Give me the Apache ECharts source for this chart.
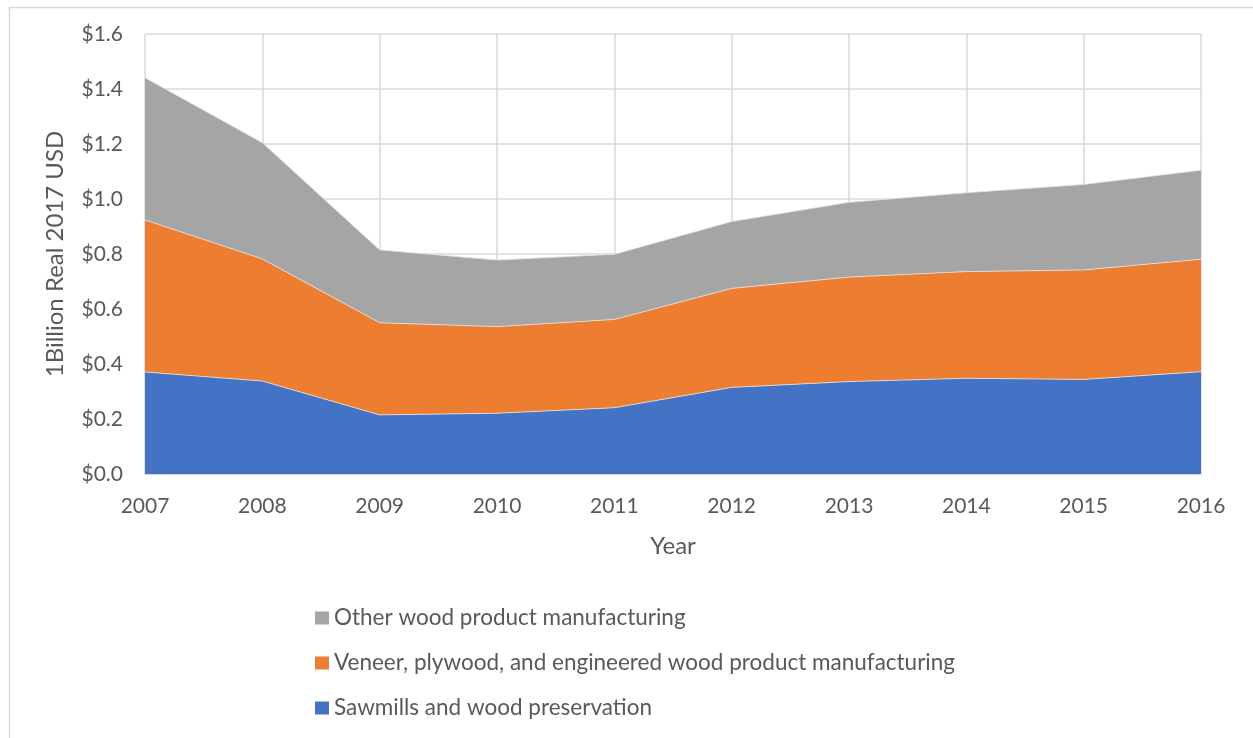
<!DOCTYPE html>
<html>
<head>
<meta charset="utf-8">
<script src="https://cdn.jsdelivr.net/npm/echarts@6/dist/echarts.min.js"></script>
<style>html,body{margin:0;padding:0;background:#fff;}#c{width:1253px;height:738px;}</style>
</head>
<body>
<div id="c"></div>
<script>
const years = ['2007','2008','2009','2010','2011','2012','2013','2014','2015','2016'];
const sawmills = [0.371, 0.338, 0.215, 0.221, 0.241, 0.315, 0.336, 0.348, 0.344, 0.372];
const veneer = [0.553, 0.444, 0.335, 0.315, 0.321, 0.360, 0.380, 0.388, 0.398, 0.409];
const other = [0.517, 0.423, 0.265, 0.242, 0.237, 0.243, 0.272, 0.287, 0.311, 0.324];
const seriesNames = ['Sawmills and wood preservation', 'Veneer, plywood, and engineered wood product manufacturing', 'Other wood product manufacturing'];
const yTicks = { min: 0, max: 1.6, interval: 0.2 };

const FONT = 'Lato';
const TXT = '#595959';
const GRID = '#D9D9D9';

const chart = echarts.init(document.getElementById('c'), null, { renderer: 'canvas' });
function areaSeries(name, data, color) {
  return {
    name: name, type: 'line', stack: 'total', data: data,
    symbol: 'none', showSymbol: false,
    lineStyle: { width: 0.8, color: '#e6e6e6' },
    areaStyle: { color: color, opacity: 1 },
    itemStyle: { color: color },
    emphasis: { disabled: true },
    animation: false
  };
}
chart.setOption({
  animation: false,
  backgroundColor: '#fff',
  textStyle: { fontFamily: FONT },
  graphic: [{
    type: 'rect', left: 7, top: 5, silent: true,
    shape: { width: 1300, height: 800 },
    style: { fill: 'none', stroke: GRID, lineWidth: 1.5 }
  }],
  grid: { left: 145, right: 52, top: 34, bottom: 264, containLabel: false },
  legend: {
    orient: 'vertical', left: 315, top: 605, padding: 0,
    itemWidth: 14, itemHeight: 13, itemGap: 19,
    icon: 'rect',
    data: [seriesNames[2], seriesNames[1], seriesNames[0]],
    textStyle: { fontFamily: FONT, fontSize: 22.5, color: TXT, lineHeight: 26 }
  },
  xAxis: {
    type: 'category', data: years, boundaryGap: false,
    name: 'Year', nameLocation: 'middle', nameGap: 60,
    nameTextStyle: { fontFamily: FONT, fontSize: 24, color: TXT },
    axisLine: { show: true, lineStyle: { color: GRID, width: 1.5 } },
    axisTick: { show: false },
    axisLabel: { fontFamily: FONT, fontSize: 21, color: TXT, margin: 22 },
    splitLine: { show: true, lineStyle: { color: GRID, width: 1.5 } }
  },
  yAxis: {
    type: 'value', min: yTicks.min, max: yTicks.max, interval: yTicks.interval,
    name: '1Billion Real 2017 USD', nameLocation: 'middle', nameGap: 78,
    nameTextStyle: { fontFamily: FONT, fontSize: 24, color: TXT },
    axisLine: { show: false }, axisTick: { show: false },
    axisLabel: { fontFamily: FONT, fontSize: 21, color: TXT, margin: 22, formatter: v => '$' + v.toFixed(1) },
    splitLine: { show: true, lineStyle: { color: GRID, width: 1.5 } }
  },
  series: [
    areaSeries(seriesNames[0], sawmills, '#4472C4'),
    areaSeries(seriesNames[1], veneer, '#ED7D31'),
    areaSeries(seriesNames[2], other, '#A5A5A5')
  ]
});
</script>
</body>
</html>
